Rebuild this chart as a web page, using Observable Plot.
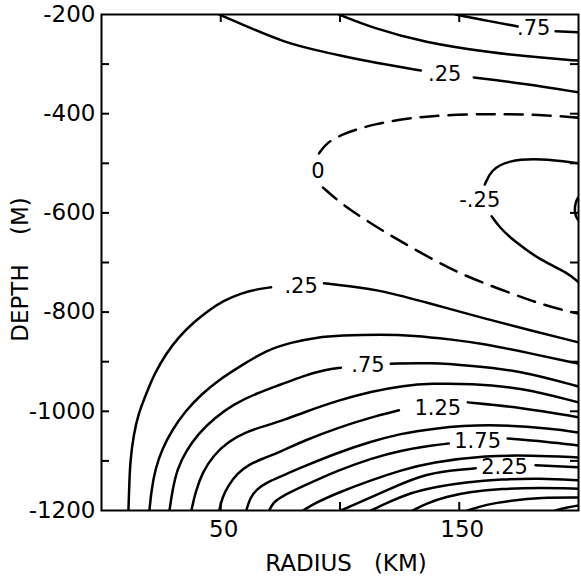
<!DOCTYPE html>
<html><head><meta charset="utf-8">
<script src="https://cdn.jsdelivr.net/npm/d3@7"></script>
<script src="https://cdn.jsdelivr.net/npm/@observablehq/plot@0.6"></script>
<style>body{margin:0;background:#fff}#chart svg{font-family:"DejaVu Sans",sans-serif}</style>
</head><body><div id="chart"></div>
<script>
// ---- axis ticks ----
const xTickLabels = [50, 150];
const xTickMarks = [50, 100, 150];
const yTickLabels = [-200, -400, -600, -800, -1000, -1200];
const yTickMarks = [-300, -400, -500, -600, -700, -800, -900, -1000, -1100];
const xTitle = "RADIUS\u00a0\u00a0\u00a0(KM)";
const yTitle = "DEPTH\u00a0\u00a0\u00a0\u00a0(M)";

// ---- contour lines: [radius km, depth m] (split where labels sit) ----
const c025UpperA = [[49.4,-200],[62.8,-228],[76.6,-256],[90.8,-273],[100.4,-283],[114.2,-297],[133.9,-313]];
const c025UpperB = [[156.1,-327],[177.0,-339],[200,-357]];
const c050Upper = [[99.6,-200],[114.2,-228],[135.1,-256],[163.2,-277],[184.1,-287],[200,-293]];
const c075UpperA = [[148.5,-200],[163.2,-214],[174.5,-224]];
const c075UpperB = [[190.4,-234],[200,-236]];
const c000A = [[200,-408],[184.1,-402],[163.2,-400],[135.1,-404],[114.2,-420],[100.4,-442],[94.1,-460],[91.2,-480]];
const c000B = [[92.9,-549],[100.4,-581],[110.9,-615],[123.4,-652],[138.1,-692],[151.9,-726],[166.1,-752],[179.9,-777],[192.5,-795],[200,-803]];
const cM025A = [[200,-500],[184.1,-490],[170.3,-494],[163.2,-514],[160.7,-543]];
const cM025B = [[163.6,-607],[167.0,-630],[172.8,-656],[184.1,-696],[195.4,-720],[200,-740]];
const cM050 = [[201,-563],[199.5,-570],[198.4,-585],[198.5,-603],[199.5,-613],[201,-619]];
const c025A = [[11.3,-1200],[11.7,-1139],[12.1,-1099],[13.4,-1049],[15.5,-1004],[18.8,-964],[22.2,-924],[27.2,-883],[32.2,-851],[38.5,-821],[44.8,-797],[51.0,-777],[58.6,-762],[64.9,-754],[71.1,-750]];
const c025B = [[93.3,-742],[104.6,-748],[117.2,-756],[138.1,-783],[159.0,-811],[179.9,-837],[200,-861]];
const c050 = [[20.1,-1200],[20.9,-1160],[22.6,-1115],[25.5,-1075],[29.7,-1037],[35.1,-1000],[41.8,-966],[49.4,-936],[58.6,-908],[69.0,-877],[79.5,-861],[90.0,-851],[100.4,-847],[117.2,-845],[131.0,-847],[146.4,-855],[159.0,-863],[179.9,-883],[200,-904]];
const c075A = [[28.5,-1200],[29.7,-1160],[31.8,-1115],[35.6,-1079],[40.6,-1045],[47.3,-1014],[55.2,-986],[64.9,-964],[75.3,-946],[84.9,-928],[94.1,-916],[100.4,-912]];
const c075B = [[121.3,-904],[138.1,-902],[154.8,-908],[175.7,-918],[200,-950]];
const c100 = [[37.7,-1200],[39.3,-1164],[42.3,-1123],[46.9,-1089],[53.1,-1061],[60.7,-1041],[69.0,-1029],[77.4,-1016],[84.9,-1002],[99.2,-978],[113.0,-960],[126.8,-948],[138.1,-944],[154.8,-944],[175.7,-952],[200,-982]];
const c125A = [[49.4,-1200],[50.6,-1174],[53.1,-1150],[56.9,-1125],[61.9,-1107],[67.8,-1095],[75.3,-1081],[84.9,-1059],[99.2,-1033],[113.0,-1012],[124.7,-998]];
const c125B = [[153.6,-982],[175.7,-992],[200,-1012]];
const c150 = [[60.7,-1200],[62.3,-1174],[65.3,-1156],[69.5,-1143],[75.3,-1131],[84.9,-1111],[99.2,-1083],[113.0,-1061],[125.5,-1045],[138.1,-1035],[161.9,-1025],[189.5,-1035],[200,-1043]];
const c175A = [[70.3,-1200],[72.0,-1184],[75.3,-1172],[84.9,-1150],[99.2,-1119],[113.0,-1095],[125.5,-1079],[138.1,-1069],[145.6,-1065]];
const c175B = [[170.3,-1055],[186.2,-1061],[200,-1069]];
const c200 = [[84.5,-1200],[90.0,-1184],[99.2,-1164],[113.0,-1139],[125.5,-1119],[138.1,-1103],[161.9,-1089],[179.9,-1089],[200,-1093]];
const c225A = [[100.4,-1200],[108.0,-1184],[119.2,-1160],[133.9,-1129],[146.4,-1119],[156.9,-1115]];
const c225B = [[182.0,-1109],[200,-1113]];
const c250 = [[113.0,-1200],[120.1,-1184],[129.7,-1164],[140.2,-1152],[152.7,-1143],[167.4,-1137],[184.1,-1135],[200,-1139]];
const c275 = [[130.5,-1200],[136.0,-1186],[144.4,-1172],[154.8,-1162],[167.4,-1156],[184.1,-1154],[200,-1156]];
const c300 = [[153.6,-1200],[161.1,-1188],[171.5,-1180],[184.1,-1174],[200,-1174]];
const c325 = [[190.4,-1200],[194.6,-1194],[200,-1190]];

const solidContours = {c025UpperA, c025UpperB, c050Upper, c075UpperA, c075UpperB, cM025A, cM025B, cM050,
  c025A, c025B, c050, c075A, c075B, c100, c125A, c125B, c150, c175A, c175B, c200, c225A, c225B, c250, c275, c300, c325};
const dashedContours = {c000A, c000B};

// ---- contour labels ----
const labelText = [".75", ".25", "0", "-.25", ".25", ".75", "1.25", "1.75", "2.25"];
const labelR = [181.2, 143.9, 90.8, 158.6, 83.7, 111.7, 141.0, 157.7, 169.0];
const labelD = [-228, -321, -517, -575, -748, -908, -994, -1061, -1113];

const toRows = obj => Object.entries(obj).flatMap(([id, pts]) => pts.map(([r, d]) => ({id, r, d})));
const solidRows = toRows(solidContours);
const dashedRows = toRows(dashedContours);
const labels = labelText.map((t, i) => ({t, r: labelR[i], d: labelD[i]}));

const W = 581, H = 581, mL = 101, mR = 3, mT = 14, mB = 71;
const pw = W - mL - mR, ph = H - mT - mB, tk = 8;

const chart = Plot.plot({
  width: W, height: H,
  marginLeft: mL, marginRight: mR, marginTop: mT, marginBottom: mB,
  style: {fontFamily: "DejaVu Sans, sans-serif", background: "white", color: "black"},
  x: {domain: [0, 200]},
  y: {domain: [-1200, -200]},
  marks: [
    Plot.line(solidRows, {x: "r", y: "d", z: "id", curve: "basis", stroke: "black", strokeWidth: 2.5, clip: true}),
    Plot.line(dashedRows, {x: "r", y: "d", z: "id", curve: "basis", stroke: "black", strokeWidth: 2.5, strokeDasharray: "18,10", clip: true}),
    Plot.text(labels, {x: "r", y: "d", text: "t", fontSize: 21, fill: "black"}),
    Plot.frame({stroke: "black", strokeWidth: 2}),
    Plot.tickY(yTickMarks, {y: d => d, insetRight: pw - tk, stroke: "black", strokeWidth: 2}),
    Plot.tickY(yTickMarks, {y: d => d, insetLeft: pw - tk, stroke: "black", strokeWidth: 2}),
    Plot.tickX(xTickMarks, {x: d => d, insetBottom: ph - tk, stroke: "black", strokeWidth: 2}),
    Plot.tickX(xTickMarks, {x: d => d, insetTop: ph - tk, stroke: "black", strokeWidth: 2}),
    Plot.axisY(yTickLabels, {tickSize: 0, tickPadding: 6, fontSize: 23, tickFormat: d => String(d), label: null}),
    Plot.axisX(xTickLabels, {tickSize: 0, tickPadding: 10, fontSize: 23, dx: 3, tickFormat: d => String(d), label: null}),
    Plot.text([xTitle], {frameAnchor: "bottom", dy: 60, dx: 6, fontSize: 23, text: d => d}),
    Plot.text([yTitle], {frameAnchor: "left", dx: -81, dy: 7, rotate: -90, textAnchor: "middle", fontSize: 23, text: d => d})
  ]
});
document.getElementById("chart").append(chart);
</script>
</body></html>
